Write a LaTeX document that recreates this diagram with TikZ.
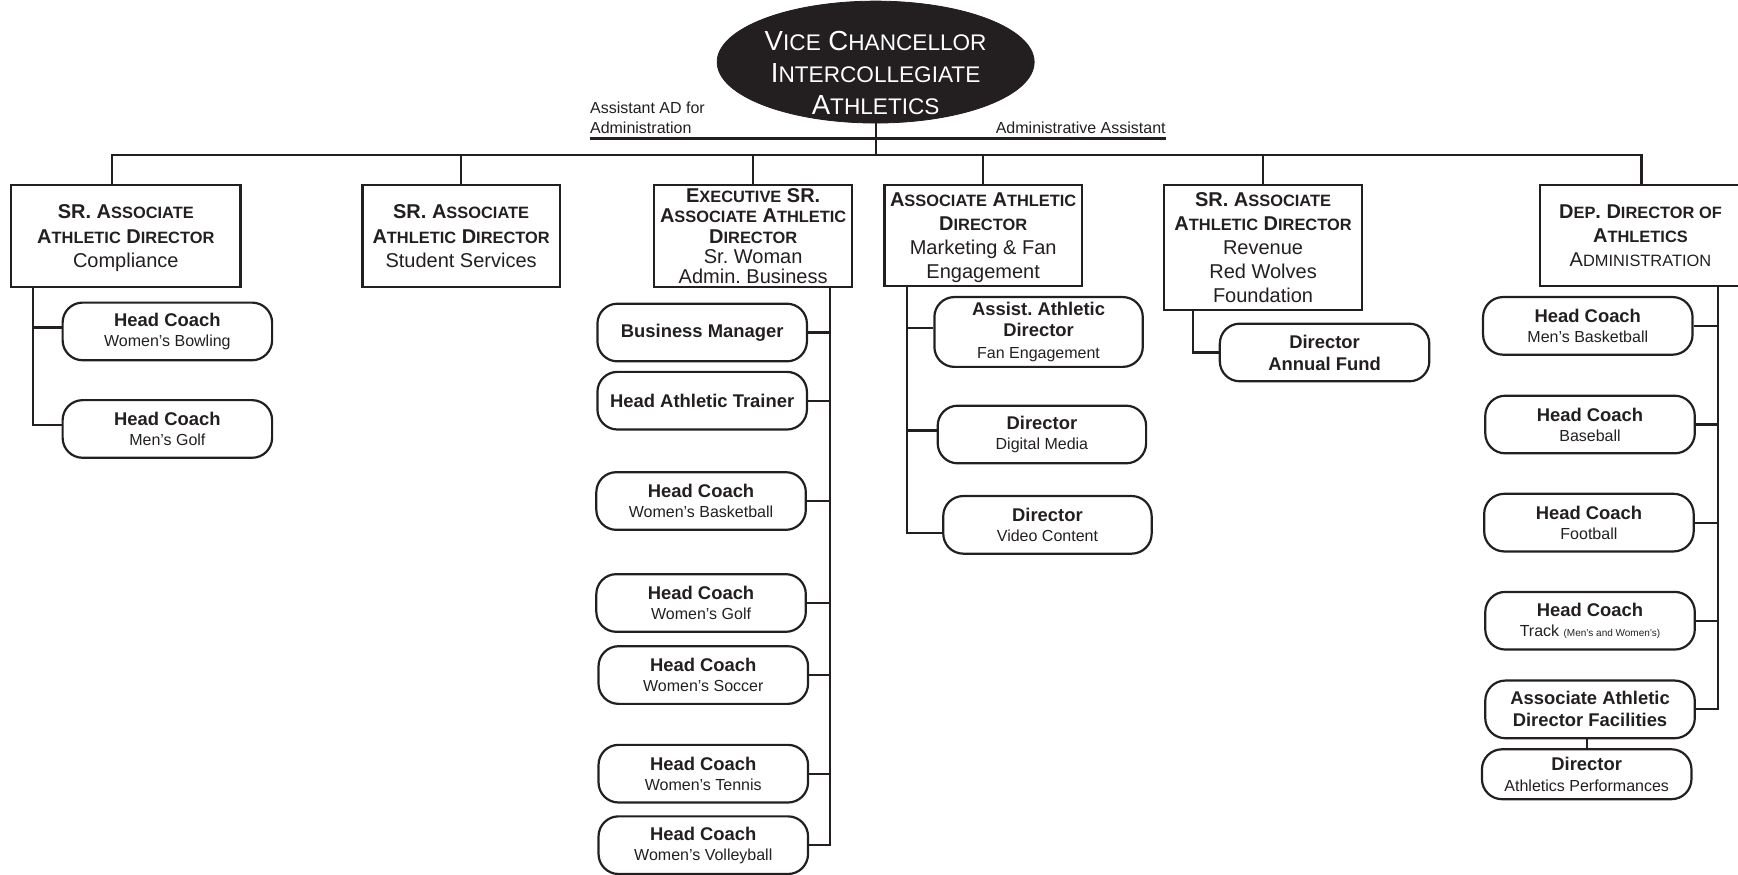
\documentclass[tikz,border=0pt]{standalone}
\usepackage{fontspec}
\setmainfont{Liberation Sans}
\usetikzlibrary{shapes.geometric}
\definecolor{ink}{RGB}{35,31,32}
\newcommand{\lc}[1]{{\fontsize{8.2}{10}\selectfont #1}}
\newcommand{\lcbig}[1]{{\fontsize{11.3}{14}\selectfont #1}}
\newcommand{\rg}[1]{{\fontsize{8}{10}\selectfont\mdseries #1}}
\frenchspacing
\begin{document}
\frenchspacing
\begin{tikzpicture}[x=0.5542pt,y=-0.5542pt,
  con/.style={draw=ink,line width=1.1pt},
  sz/.style 2 args={minimum width=#1*0.5542pt,minimum height=#2*0.5542pt},
  topbox/.style={draw=ink,line width=1.1pt,inner sep=0pt,align=center,text=ink,text depth=0pt},
  subbox/.style={draw=ink,line width=1.1pt,rounded corners=10pt,inner sep=0pt,align=center,text=ink,
    minimum width=189*0.5542pt,minimum height=52*0.5542pt,font=\fontsize{9.2}{10}\selectfont\bfseries},
  lbl/.style={inner xsep=0pt,inner ysep=2pt,align=left,text=ink,font=\fontsize{8}{10}\selectfont}
]
\useasboundingbox (0,0) rectangle (1568,789.4);

% top ellipse
\node[ellipse,fill=ink,draw=ink,sz={286}{110},inner sep=0pt] (vc) at (790,56) {};
\node[text=white,align=center,inner sep=0pt,font=\fontsize{13.8}{16}\selectfont] (vct) at (790,66)
  {V\lcbig{ICE} C\lcbig{HANCELLOR}\\I\lcbig{NTERCOLLEGIATE}\\A\lcbig{THLETICS}};

% assistant labels
\coordinate (ulL) at (532,125);
\coordinate (ulR) at (1052,125);
\node[lbl,anchor=south west] (asst) at (ulL) {Assistant AD for\\Administration};
\node[lbl,anchor=south east] (adm) at (ulR) {Administrative Assistant};

% top level boxes
\node[topbox,sz={207}{92},font=\fontsize{10}{12.2}\selectfont] (b1) at (113.5,213)
  {\textbf{SR. A\lc{SSOCIATE}}\\\textbf{A\lc{THLETIC} D\lc{IRECTOR}}\\Compliance};
\node[topbox,sz={178}{92},font=\fontsize{10}{12.2}\selectfont] (b2) at (416,213)
  {\textbf{SR. A\lc{SSOCIATE}}\\\textbf{A\lc{THLETIC} D\lc{IRECTOR}}\\Student Services};
\node[topbox,sz={179}{92},font=\fontsize{10}{10.2}\selectfont] (b3) at (679.5,213)
  {\textbf{E\lc{XECUTIVE} SR.}\\\textbf{A\lc{SSOCIATE} A\lc{THLETIC}}\\\textbf{D\lc{IRECTOR}}\\Sr. Woman\\Admin. Business};
\node[topbox,sz={178}{91},font=\fontsize{10}{12}\selectfont] (b4) at (887,212.5)
  {\textbf{A\lc{SSOCIATE} A\lc{THLETIC}}\\\textbf{D\lc{IRECTOR}}\\Marketing \& Fan\\Engagement};
\node[topbox,sz={179}{113},font=\fontsize{10}{12}\selectfont] (b5) at (1139.5,223.5)
  {\textbf{SR. A\lc{SSOCIATE}}\\\textbf{A\lc{THLETIC} D\lc{IRECTOR}}\\Revenue\\Red Wolves\\Foundation};
\node[topbox,sz={182}{91},font=\fontsize{10}{12.2}\selectfont] (b6) at (1480,212.5)
  {\textbf{D\lc{EP}. D\lc{IRECTOR OF}}\\\textbf{A\lc{THLETICS}}\\A\lc{DMINISTRATION}};

% B1 children
\node[subbox] (hcwbowl) at (151,299) {Head Coach\\\rg{Women’s Bowling}};
\node[subbox] (hcmg) at (151,387) {Head Coach\\\rg{Men’s Golf}};

% B3 children
\node[subbox] (bm) at (633.5,300) {Business Manager};
\node[subbox] (hat) at (633.5,361.5) {Head Athletic Trainer};
\node[subbox] (hcwb) at (632.5,452) {Head Coach\\\rg{Women’s Basketball}};
\node[subbox] (hcwg) at (632.5,544) {Head Coach\\\rg{Women’s Golf}};
\node[subbox] (hcws) at (634.5,609) {Head Coach\\\rg{Women’s Soccer}};
\node[subbox] (hcwt) at (634.5,698) {Head Coach\\\rg{Women’s Tennis}};
\node[subbox] (hcwv) at (634.5,762.5) {Head Coach\\\rg{Women’s Volleyball}};

% B4 children
\node[subbox,sz={188}{63},font=\fontsize{9.2}{10.6}\selectfont\bfseries] (aad) at (937,299.5)
  {Assist. Athletic\\Director\\\rg{Fan Engagement}};
\node[subbox,sz={188}{52}] (dm) at (940,392) {Director\\\rg{Digital Media}};
\node[subbox,sz={188}{52}] (dvc) at (945,473.5) {Director\\\rg{Video Content}};

% B5 child
\node[subbox,font=\fontsize{9.2}{11}\selectfont\bfseries] (daf) at (1195,318) {Director\\Annual Fund};

% B6 children
\node[subbox] (hcmb) at (1432.5,294) {Head Coach\\\rg{Men’s Basketball}};
\node[subbox] (hcb) at (1434.5,383) {Head Coach\\\rg{Baseball}};
\node[subbox] (hcf) at (1433.5,471.5) {Head Coach\\\rg{Football}};
\node[subbox] (hct) at (1434.5,560) {Head Coach\\\rg{Track {\fontsize{5}{6}\selectfont (Men’s and Women’s)}}};
\node[subbox,font=\fontsize{9.2}{11}\selectfont\bfseries] (aadf) at (1434.5,640) {Associate Athletic\\Director Facilities};
\node[subbox,sz={189}{45},font=\fontsize{9.2}{10.5}\selectfont\bfseries] (dap) at (1431.5,698.5) {Director\\\rg{Athletics Performances}};

% main bus
\coordinate (busL) at (101,140);
\coordinate (busR) at (1481,140);
\draw[con] (busL |- b1.north) -- (busL) -- (busR) -- (busR |- b6.north);
\draw[con] (vc.south) -- (vc.south |- busL);
\draw[con] (ulL) -- (ulR);
\draw[con] (b2.north) -- (b2.north |- busL);
\draw[con] (b3.north) -- (b3.north |- busL);
\draw[con] (b4.north) -- (b4.north |- busL);
\draw[con] (b5.north) -- (b5.north |- busL);

% connection points slightly off centre
\coordinate (pbowl) at ([yshift=2pt]hcwbowl.west);
\coordinate (pmg) at ([yshift=2pt]hcmg.west);
\coordinate (paad) at ([yshift=2pt]aad.west);
\coordinate (pdm) at ([yshift=2pt]dm.west);
\coordinate (pdvc) at ([yshift=-4pt]dvc.west);

% B1 trunk
\coordinate (t1) at (30,0);
\draw[con] (t1 |- b1.south) |- (pmg);
\draw[con] (t1 |- pbowl) -- (pbowl);

% B3 trunk
\coordinate (t3) at (749,0);
\draw[con] (t3 |- b3.south) |- (hcwv.east);
\foreach \n in {bm,hat,hcwb,hcwg,hcws,hcwt}
  \draw[con] (t3 |- \n.east) -- (\n.east);

% B4 trunk
\coordinate (t4) at (818,0);
\draw[con] (t4 |- b4.south) |- (pdvc);
\draw[con] (t4 |- paad) -- (paad);
\draw[con] (t4 |- pdm) -- (pdm);

% B5 trunk
\coordinate (t5) at (1076,0);
\draw[con] (t5 |- b5.south) |- (daf.west);

% B6 trunk
\coordinate (t6) at (1550,0);
\draw[con] (t6 |- b6.south) |- (aadf.east);
\foreach \n in {hcmb,hcb,hcf,hct}
  \draw[con] (t6 |- \n.east) -- (\n.east);
\draw[con] (dap.north) -- (dap.north |- aadf.south);
\end{tikzpicture}
\end{document}
